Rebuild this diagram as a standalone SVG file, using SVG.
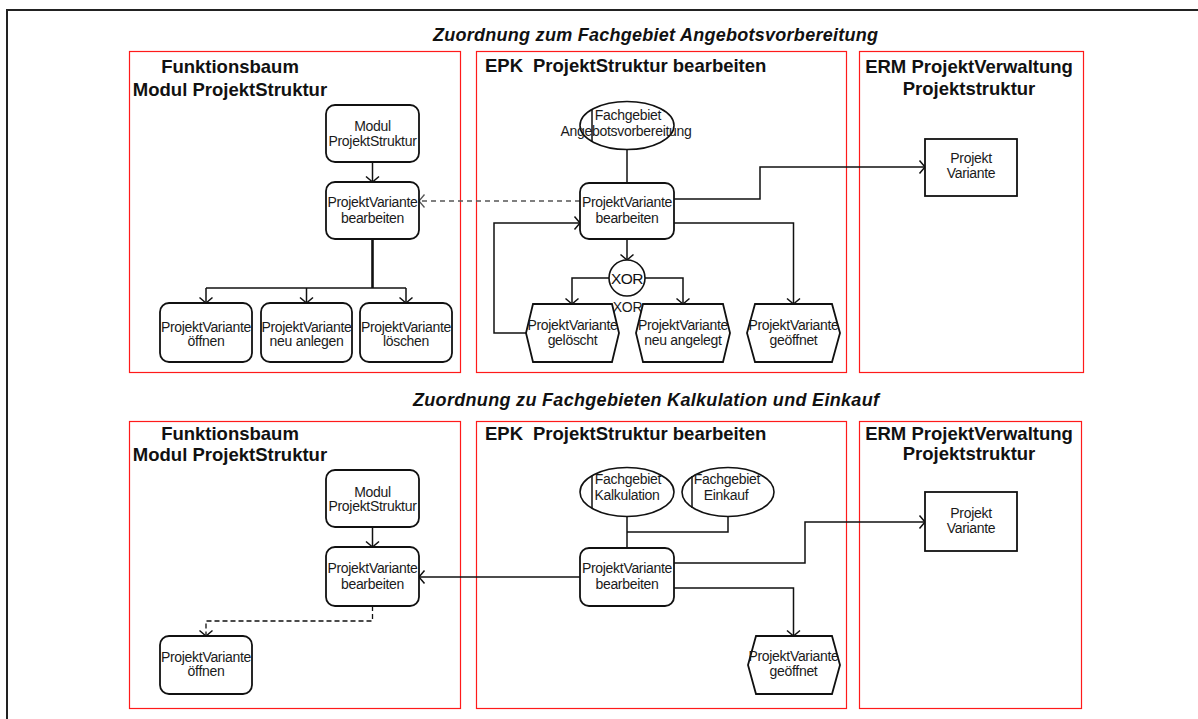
<svg xmlns="http://www.w3.org/2000/svg" width="1198" height="719" viewBox="0 0 1198 719">
  <style>
    .frame { fill: none; stroke: #222; stroke-width: 2; }
    .panel { fill: none; stroke: #ff1a1a; stroke-width: 1.2; }
    .sec { font-family: "Liberation Sans", Arial, sans-serif; font-size: 18px; font-weight: bold; font-style: italic; fill: #111; }
    .head { font-family: "Liberation Sans", Arial, sans-serif; font-size: 18.5px; font-weight: bold; fill: #111; }
    .func { fill: #fff; stroke: #111; stroke-width: 1.8; }
    .evt { fill: #fff; stroke: #111; stroke-width: 1.8; }
    .org { fill: #fff; stroke: #111; stroke-width: 1.6; }
    .ent { fill: #fff; stroke: #111; stroke-width: 1.8; }
    .t { font-family: "Liberation Sans", Arial, sans-serif; font-size: 14px; letter-spacing: -0.3px; fill: #1a1a1a; text-anchor: middle; }
    .xor { font-family: "Liberation Sans", Arial, sans-serif; font-size: 15.5px; letter-spacing: -0.5px; fill: #111; text-anchor: middle; }
    .c { fill: none; stroke: #111; stroke-width: 1.5; }
    .ca { fill: none; stroke: #111; stroke-width: 1.5; marker-end: url(#arr); }
    .thick { fill: none; stroke: #111; stroke-width: 2.6; }
    .dash { fill: none; stroke: #555; stroke-width: 1.5; stroke-dasharray: 5 4; marker-end: url(#arrg); }
    .dashb { fill: none; stroke: #111; stroke-width: 1.3; stroke-dasharray: 5 3; marker-end: url(#arr); }
  </style>
  <defs>
    <marker id="arr" viewBox="-7 -8 8 16" refX="0" refY="0" markerWidth="8" markerHeight="16" markerUnits="userSpaceOnUse" orient="auto">
      <path d="M-5.5,-6.5 L0,0 L-5.5,6.5" fill="none" stroke="#111" stroke-width="1.5"/>
    </marker>
    <marker id="arrg" viewBox="-7 -8 8 16" refX="0" refY="0" markerWidth="8" markerHeight="16" markerUnits="userSpaceOnUse" orient="auto">
      <path d="M-5.5,-6.5 L0,0 L-5.5,6.5" fill="none" stroke="#555" stroke-width="1.3"/>
    </marker>
  </defs>

  <!-- outer frame -->
  <path class="frame" d="M7,719 V10 H1198"/>

  <!-- section titles -->
  <text class="sec" x="433" y="40.5" textLength="445" lengthAdjust="spacing">Zuordnung zum Fachgebiet Angebotsvorbereitung</text>
  <text class="sec" x="413" y="406" textLength="466" lengthAdjust="spacing">Zuordnung zu Fachgebieten Kalkulation und Einkauf</text>

  <!-- panels -->
  <g id="panels">
    <rect class="panel" x="129.5" y="51.5" width="331" height="321"/>
    <rect class="panel" x="476.5" y="51.5" width="370" height="321"/>
    <rect class="panel" x="859.5" y="51.5" width="224" height="321"/>
    <rect class="panel" x="129.5" y="421.5" width="331" height="287"/>
    <rect class="panel" x="476.5" y="421.5" width="370" height="287"/>
    <rect class="panel" x="859.5" y="421.5" width="222" height="287"/>
  </g>

  <!-- panel headings -->
  <g id="headings">
    <text class="head" x="230" y="73" text-anchor="middle">Funktionsbaum</text>
    <text class="head" x="230" y="96" text-anchor="middle">Modul ProjektStruktur</text>
    <text class="head" x="485" y="72">EPK</text>
    <text class="head" x="533" y="72">ProjektStruktur bearbeiten</text>
    <text class="head" x="969" y="73" text-anchor="middle">ERM ProjektVerwaltung</text>
    <text class="head" x="969" y="95" text-anchor="middle">Projektstruktur</text>

    <text class="head" x="230" y="440" text-anchor="middle">Funktionsbaum</text>
    <text class="head" x="230" y="461" text-anchor="middle">Modul ProjektStruktur</text>
    <text class="head" x="485" y="440">EPK</text>
    <text class="head" x="533" y="440">ProjektStruktur bearbeiten</text>
    <text class="head" x="969" y="440" text-anchor="middle">ERM ProjektVerwaltung</text>
    <text class="head" x="969" y="460" text-anchor="middle">Projektstruktur</text>
  </g>

  <!-- connectors -->
  <g id="connectors">
    <!-- upper function tree -->
    <path class="ca" d="M372.5,162 V182"/>
    <path class="thick" d="M372.5,239 V288"/>
    <path class="c" d="M206,288 H406" stroke-width="2"/>
    <path class="ca" d="M206,288 V303"/>
    <path class="ca" d="M306.5,288 V303"/>
    <path class="ca" d="M406,288 V303"/>
    <path class="dash" d="M580,201 H419"/>
    <!-- upper EPK -->
    <path class="c" d="M627,149.5 V183"/>
    <path class="ca" d="M674,199 H760 V167 H925"/>
    <path class="ca" d="M674,223 H793.5 V304"/>
    <path class="ca" d="M627,239 V260"/>
    <path class="ca" d="M609,278 H572 V304"/>
    <path class="ca" d="M645,278 H683 V304"/>
    <path class="ca" d="M526,333 H494 V223 H580"/>

    <!-- lower function tree -->
    <path class="ca" d="M372.5,527 V547"/>
    <path class="ca" d="M580,577 H419"/>
    <path class="dashb" d="M372.5,606 V621 H206 V636"/>
    <!-- lower EPK -->
    <path class="c" d="M627,516.5 V548 M627,532 H728 V516.5"/>
    <path class="ca" d="M674,563 H805 V522 H925"/>
    <path class="ca" d="M674,588 H793.5 V636"/>
  </g>

  <!-- upper function tree nodes -->
  <g id="top-modul">
    <rect class="func" x="326" y="105" width="93" height="57" rx="9"/>
    <text class="t" x="372.5" y="131">Modul</text>
    <text class="t" x="372.5" y="145.5">ProjektStruktur</text>
  </g>
  <g id="top-ft-bearbeiten">
    <rect class="func" x="326" y="182" width="93" height="57" rx="9"/>
    <text class="t" x="372.5" y="207">ProjektVariante</text>
    <text class="t" x="372.5" y="222.5">bearbeiten</text>
  </g>
  <g id="top-oeffnen">
    <rect class="func" x="160" y="303" width="92" height="59" rx="9"/>
    <text class="t" x="206" y="332">ProjektVariante</text>
    <text class="t" x="206" y="346">öffnen</text>
  </g>
  <g id="top-anlegen">
    <rect class="func" x="261" y="303" width="91" height="59" rx="9"/>
    <text class="t" x="306.5" y="332">ProjektVariante</text>
    <text class="t" x="306.5" y="346">neu anlegen</text>
  </g>
  <g id="top-loeschen">
    <rect class="func" x="360" y="303" width="92" height="59" rx="9"/>
    <text class="t" x="406" y="332">ProjektVariante</text>
    <text class="t" x="406" y="346">löschen</text>
  </g>

  <!-- upper EPK nodes -->
  <g id="top-org">
    <ellipse class="org" cx="627" cy="125.5" rx="47" ry="24"/>
    <line class="c" x1="592" y1="109.5" x2="592" y2="141.5"/>
    <text class="t" x="628" y="120">Fachgebiet</text>
    <text class="t" x="626" y="135.5">Angebotsvorbereitung</text>
  </g>
  <g id="top-epk-bearbeiten">
    <rect class="func" x="580" y="183" width="94" height="56" rx="9"/>
    <text class="t" x="627" y="207">ProjektVariante</text>
    <text class="t" x="627" y="222.5">bearbeiten</text>
  </g>
  <g id="top-xor">
    <circle class="org" cx="627" cy="278" r="18"/>
    <text class="xor" x="627" y="283.5">XOR</text>
    <text class="t" x="627.5" y="312">XOR</text>
  </g>
  <g id="top-geloescht">
    <path class="evt" d="M533,304 H612 L619,333 L612,362 H533 L526,333 Z"/>
    <text class="t" x="572.5" y="330">ProjektVariante</text>
    <text class="t" x="572.5" y="345">gelöscht</text>
  </g>
  <g id="top-angelegt">
    <path class="evt" d="M643,304 H723 L730,333 L723,362 H643 L636,333 Z"/>
    <text class="t" x="683" y="330">ProjektVariante</text>
    <text class="t" x="683" y="345">neu angelegt</text>
  </g>
  <g id="top-geoeffnet">
    <path class="evt" d="M755,304 H832 L840,333 L832,362 H755 L747,333 Z"/>
    <text class="t" x="793.5" y="330">ProjektVariante</text>
    <text class="t" x="793.5" y="345">geöffnet</text>
  </g>

  <!-- upper ERM node -->
  <g id="top-entity">
    <rect class="ent" x="925" y="139" width="92" height="57"/>
    <text class="t" x="971" y="163">Projekt</text>
    <text class="t" x="971" y="178">Variante</text>
  </g>

  <!-- lower function tree nodes -->
  <g id="bottom-modul">
    <rect class="func" x="326" y="470" width="93" height="57" rx="9"/>
    <text class="t" x="372.5" y="496.5">Modul</text>
    <text class="t" x="372.5" y="511">ProjektStruktur</text>
  </g>
  <g id="bottom-ft-bearbeiten">
    <rect class="func" x="326" y="547" width="93" height="59" rx="9"/>
    <text class="t" x="372.5" y="573">ProjektVariante</text>
    <text class="t" x="372.5" y="588.5">bearbeiten</text>
  </g>
  <g id="bottom-oeffnen">
    <rect class="func" x="160" y="636" width="92" height="58" rx="9"/>
    <text class="t" x="206" y="661.5">ProjektVariante</text>
    <text class="t" x="206" y="676">öffnen</text>
  </g>

  <!-- lower EPK nodes -->
  <g id="bottom-org-kalkulation">
    <ellipse class="org" cx="627" cy="492" rx="47" ry="24.5"/>
    <line class="c" x1="592" y1="475.5" x2="592" y2="508.5"/>
    <text class="t" x="628" y="484">Fachgebiet</text>
    <text class="t" x="627" y="500">Kalkulation</text>
  </g>
  <g id="bottom-org-einkauf">
    <ellipse class="org" cx="728" cy="492" rx="46" ry="24.5"/>
    <line class="c" x1="692" y1="476" x2="692" y2="508"/>
    <text class="t" x="727" y="484">Fachgebiet</text>
    <text class="t" x="726" y="500">Einkauf</text>
  </g>
  <g id="bottom-epk-bearbeiten">
    <rect class="func" x="580" y="548" width="94" height="58" rx="9"/>
    <text class="t" x="627" y="573">ProjektVariante</text>
    <text class="t" x="627" y="589">bearbeiten</text>
  </g>
  <g id="bottom-geoeffnet">
    <path class="evt" d="M756,636 H832 L840,665 L832,694 H756 L748,665 Z"/>
    <text class="t" x="793.5" y="661">ProjektVariante</text>
    <text class="t" x="793.5" y="675.5">geöffnet</text>
  </g>

  <!-- lower ERM node -->
  <g id="bottom-entity">
    <rect class="ent" x="925" y="492" width="92" height="59"/>
    <text class="t" x="971" y="517.5">Projekt</text>
    <text class="t" x="971" y="533">Variante</text>
  </g>
</svg>
